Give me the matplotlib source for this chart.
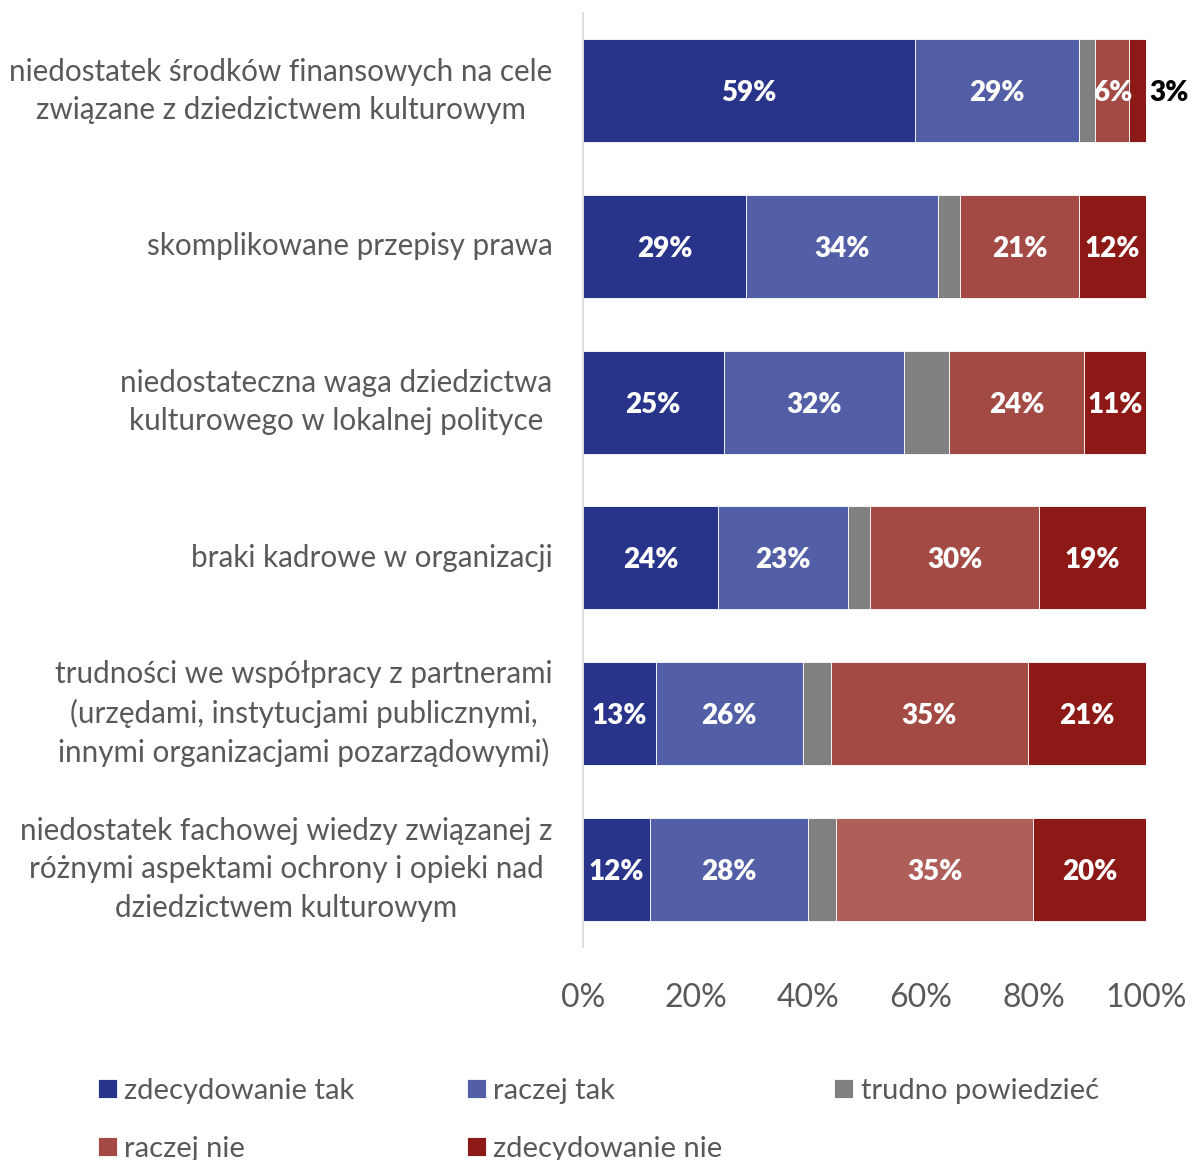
import numpy as np
import matplotlib
matplotlib.use("Agg")
from matplotlib import pyplot as plt

plt.rcParams['font.family'] = ['Lato', 'DejaVu Sans']

categories = [
    "niedostatek środków finansowych na cele\nzwiązane z dziedzictwem kulturowym",
    "skomplikowane przepisy prawa",
    "niedostateczna waga dziedzictwa\nkulturowego w lokalnej polityce",
    "braki kadrowe w organizacji",
    "trudności we współpracy z partnerami\n(urzędami, instytucjami publicznymi,\ninnymi organizacjami pozarządowymi)",
    "niedostatek fachowej wiedzy związanej z\nróżnymi aspektami ochrony i opieki nad\ndziedzictwem kulturowym",
]
series_names = ["zdecydowanie tak", "raczej tak", "trudno powiedzieć", "raczej nie", "zdecydowanie nie"]
zdecydowanie_tak = [59, 29, 25, 24, 13, 12]
raczej_tak = [29, 34, 32, 23, 26, 28]
trudno_powiedziec = [3, 4, 8, 4, 5, 5]
raczej_nie = [6, 21, 24, 30, 35, 35]
zdecydowanie_nie = [3, 12, 11, 19, 21, 20]

colors = ["#283489", "#525EA5", "#808080", "#A34A45", "#8D1916"]
raczej_nie_row_colors = ["#A34A45"] * 5 + ["#AF5F5A"]

series = [zdecydowanie_tak, raczej_tak, trudno_powiedziec, raczej_nie, zdecydowanie_nie]

fig = plt.figure(figsize=(11.92, 11.6), dpi=100)
ax = fig.add_axes([0.489, 0.1836, 0.4725, 0.8052])

y = np.arange(len(categories))
left = np.zeros(len(categories))
handles = []
for i, (name, vals) in enumerate(zip(series_names, series)):
    col = raczej_nie_row_colors if i == 3 else colors[i]
    bars = ax.barh(y, vals, left=left, height=0.66, color=col,
                   edgecolor="white", linewidth=0.6, label=name)
    handles.append(bars)
    if i != 2:
        for j, v in enumerate(vals):
            if i == 4 and j == 0:
                ax.text(left[j] + v + 0.5, y[j], f"{v}%", ha="left", va="center_baseline",
                        color="black", fontsize=20, fontweight="heavy")
            else:
                ax.text(left[j] + v / 2, y[j], f"{v}%", ha="center", va="center_baseline",
                        color="white", fontsize=20, fontweight="heavy")
    left += np.array(vals)

ax.set_xlim(0, 100)
ax.set_ylim(len(categories) - 0.5, -0.5)
ax.set_yticks(y)
ax.set_yticklabels(categories, fontsize=21.3, color="#595959", linespacing=1.45)
plt.setp(ax.get_yticklabels(), multialignment="center", va="center")
ax.set_xticks([0, 20, 40, 60, 80, 100])
ax.set_xticklabels(["0%", "20%", "40%", "60%", "80%", "100%"], fontsize=23, color="#595959")
ax.tick_params(axis="both", length=0)
ax.tick_params(axis="y", pad=22)
ax.tick_params(axis="x", pad=26)
for s in ["top", "right", "bottom"]:
    ax.spines[s].set_visible(False)
ax.spines["left"].set_color("#D9D9D9")
ax.spines["left"].set_linewidth(1.2)

# legend: row-major order with 3 columns
order = [0, 3, 1, 4, 2]
leg = fig.legend([handles[k] for k in order], [series_names[k] for k in order],
                 loc="lower left", bbox_to_anchor=(0.06, -0.024), ncol=3,
                 frameon=False, fontsize=21, handlelength=0.65, handleheight=0.65,
                 handletextpad=0.25, columnspacing=3.85, labelspacing=1.1)
for t in leg.get_texts():
    t.set_color("#595959")

fig.savefig("out.png", dpi=100)
